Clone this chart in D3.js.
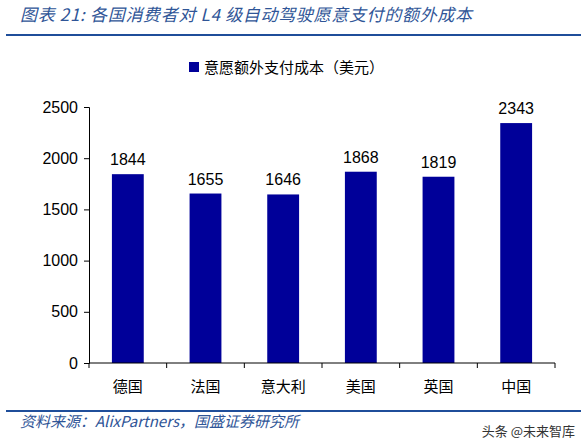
<!DOCTYPE html>
<html>
<head>
<meta charset="utf-8">
<script src="https://cdn.jsdelivr.net/npm/d3@7"></script>
<style>
    body { margin: 0; padding: 0; background: #fff; }
    svg text { font-family: "Noto Sans CJK SC", sans-serif; }
</style>
</head>
<body>
<div id="chart"></div>
<script>
    var countries = ["德国", "法国", "意大利", "美国", "英国", "中国"];
    var costs = [1844, 1655, 1646, 1868, 1819, 2343];
    var yTicks = [0, 500, 1000, 1500, 2000, 2500];

    var W = 587, H = 448;
    var svg = d3.select("#chart").append("svg").attr("width", W).attr("height", H);

    // header
    svg.append("text").attr("x", 20).attr("y", 21)
        .attr("font-size", 17).attr("font-style", "italic").attr("fill", "#2f5597")
        .attr("textLength", 452)
        .text("图表 21:  各国消费者对 L4 级自动驾驶愿意支付的额外成本");
    svg.append("line").attr("x1", 6).attr("x2", 581).attr("y1", 35).attr("y2", 35)
        .attr("stroke", "#1f4e9a").attr("stroke-width", 2);

    // legend
    svg.append("rect").attr("x", 189).attr("y", 62).attr("width", 10).attr("height", 10).attr("fill", "#000099");
    svg.append("text").attr("x", 204).attr("y", 73).attr("font-size", 15).attr("fill", "#000")
        .text("意愿额外支付成本（美元）");

    var x = d3.scaleBand().domain(countries).range([89, 555]).paddingInner(0.59).paddingOuter(0.295);
    var y = d3.scaleLinear().domain([0, 2500]).range([363, 107]);

    var gy = svg.append("g").attr("transform", "translate(89,0)")
        .call(d3.axisLeft(y).tickValues(yTicks).tickFormat(d3.format("d")).tickSize(5).tickPadding(6));
    gy.selectAll("text").attr("font-size", 16).attr("fill", "#000").style("font-family", "Liberation Sans, Arial");
    gy.selectAll("line,path").attr("stroke", "#000");

    svg.selectAll("rect.bar").data(costs).enter().append("rect").attr("class", "bar")
        .attr("x", function(d, i) { return x(countries[i]); })
        .attr("width", x.bandwidth())
        .attr("y", function(d) { return y(d); })
        .attr("height", function(d) { return y(0) - y(d); })
        .attr("fill", "#000099");

    svg.selectAll("text.val").data(costs).enter().append("text").attr("class", "val")
        .attr("x", function(d, i) { return x(countries[i]) + x.bandwidth() / 2; })
        .attr("y", function(d) { return y(d) - 9; })
        .attr("text-anchor", "middle").attr("font-size", 16).style("font-family", "Liberation Sans, Arial")
        .text(function(d) { return d; });

    // x axis line and category boundary ticks
    svg.append("line").attr("x1", 89).attr("x2", 555).attr("y1", 363).attr("y2", 363).attr("stroke", "#000");
    d3.range(countries.length + 1).forEach(function(i) {
        var xx = 89 + i * (555 - 89) / countries.length;
        svg.append("line").attr("x1", xx).attr("x2", xx).attr("y1", 363).attr("y2", 368).attr("stroke", "#000");
    });
    svg.selectAll("text.cat").data(countries).enter().append("text").attr("class", "cat")
        .attr("x", function(d) { return x(d) + x.bandwidth() / 2; })
        .attr("y", 392).attr("text-anchor", "middle").attr("font-size", 15).attr("fill", "#000")
        .text(function(d) { return d; });

    // footer
    svg.append("line").attr("x1", 6).attr("x2", 581).attr("y1", 411).attr("y2", 411)
        .attr("stroke", "#1f4e9a").attr("stroke-width", 2);
    svg.append("text").attr("x", 20).attr("y", 427)
        .attr("font-size", 15).attr("font-style", "italic").attr("fill", "#2f5597")
        .text("资料来源：AlixPartners，国盛证券研究所");
    svg.append("text").attr("x", 575).attr("y", 436).attr("text-anchor", "end")
        .attr("font-size", 13).attr("fill", "#333")
        .text("头条 @未来智库");
</script>
</body>
</html>
